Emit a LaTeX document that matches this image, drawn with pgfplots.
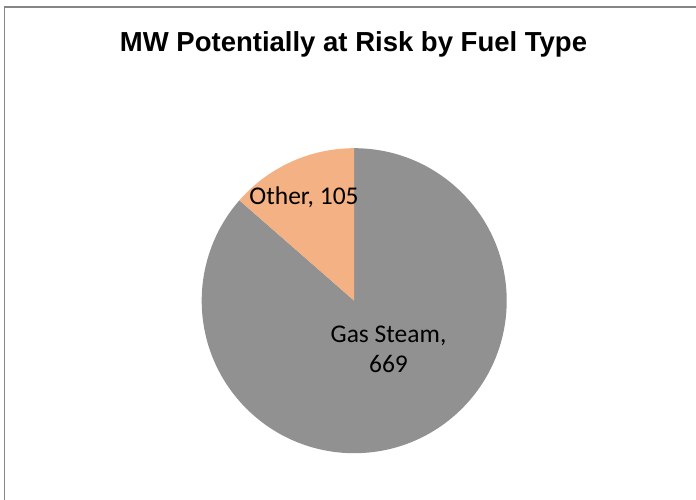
\documentclass[border=0pt]{standalone}
\usepackage{pgfplots}
\pgfplotsset{compat=1.18}
\usepackage{pgfplotstable}
\usepackage{fontspec}
\setmainfont{Carlito}
\newfontfamily\titlefont{Liberation Sans}
\definecolor{gasgrey}{HTML}{919191}
\definecolor{otherpeach}{HTML}{F4B183}
\definecolor{framegrey}{HTML}{868686}
\pgfplotstableread{
label value
GasSteam 669
Other 105
}\piedata
\begin{document}
\begin{tikzpicture}
\pgfplotstablegetelem{0}{value}\of\piedata \let\gasval\pgfplotsretval
\pgfplotstablegetelem{1}{value}\of\piedata \let\otherval\pgfplotsretval
\pgfmathsetmacro{\total}{\gasval+\otherval}
\pgfmathsetmacro{\gasangle}{\gasval/\total*360}
\pgfmathsetmacro{\otherangle}{\otherval/\total*360}
\pgfmathsetmacro{\gasend}{90-\gasangle}
\pgfmathsetmacro{\otherend}{90+\otherangle}
\useasboundingbox (0,0) rectangle (696pt,500pt);
\draw[framegrey, line width=1.3pt] (4.3pt,0) -- (4.3pt,493pt) -- (700pt,493pt);
\node[anchor=base, font=\titlefont\bfseries\fontsize{27.5}{32}\selectfont] at (353.5pt,448.3pt) {MW Potentially at Risk by Fuel Type};
\begin{axis}[at={(354.2pt,199.3pt)}, anchor=center, scale only axis,
  width=305pt, height=305pt, hide axis, clip=false,
  xmin=-1, xmax=1, ymin=-1, ymax=1]
\fill[gasgrey] (axis cs:0,0) -- (axis cs:0,1) arc[start angle=90, end angle=\gasend, radius=152.5pt] -- cycle;
\fill[otherpeach] (axis cs:0,0) -- (axis cs:0,1) arc[start angle=90, end angle=\otherend, radius=152.5pt] -- cycle;
\node[anchor=base, font=\fontsize{25.5}{31}\selectfont, inner sep=0pt] at (axis cs:-0.329,0.628) {Other, 105};
\node[anchor=base, font=\fontsize{25.5}{31}\selectfont, inner sep=0pt] at (axis cs:0.225,-0.271) {Gas Steam,};
\node[anchor=base, font=\fontsize{25.5}{31}\selectfont, inner sep=0pt] at (axis cs:0.225,-0.474) {669};
\end{axis}
\end{tikzpicture}
\end{document}
